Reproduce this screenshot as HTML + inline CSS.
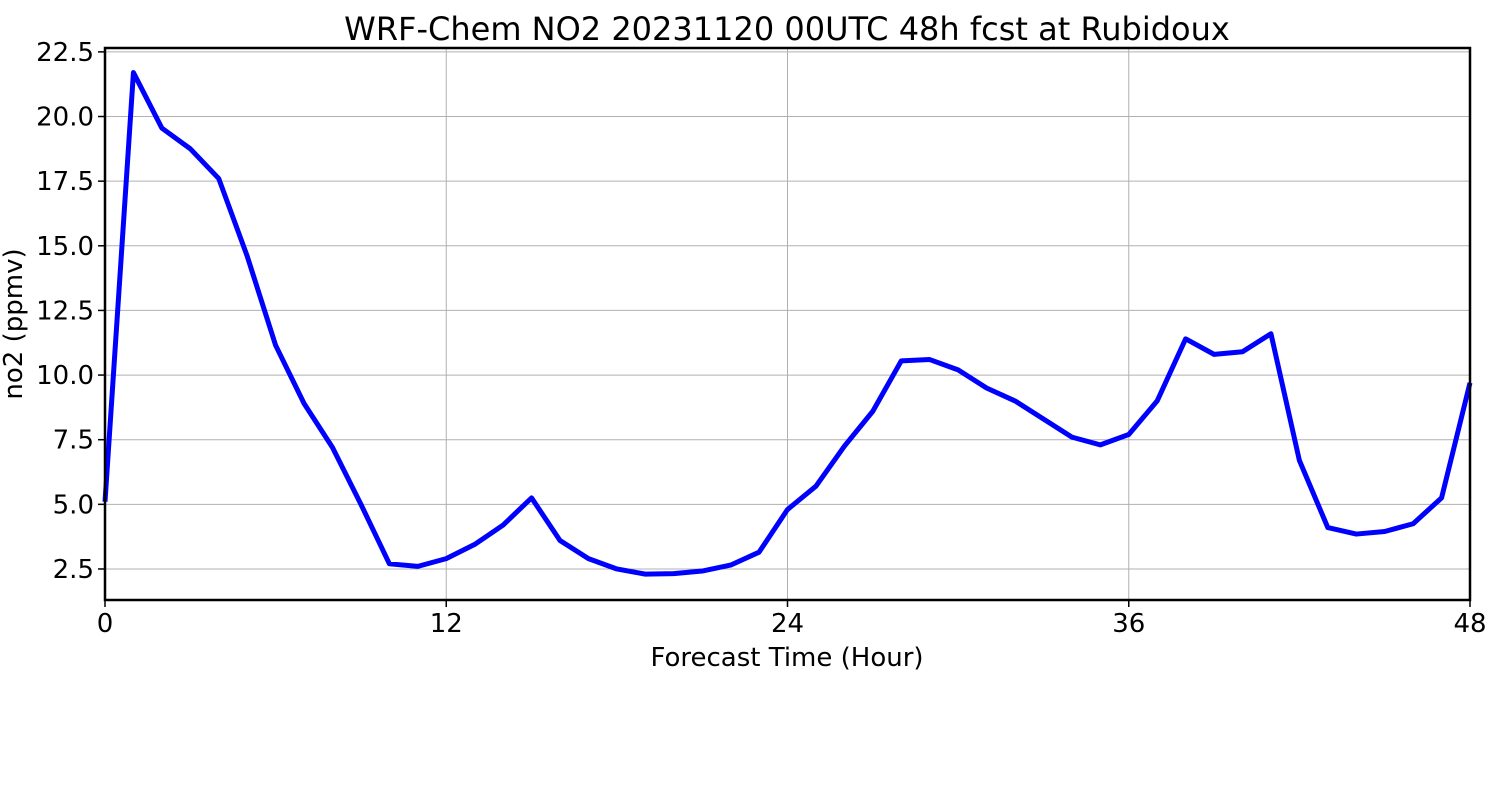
<!DOCTYPE html>
<html><head><meta charset="utf-8"><style>
body{margin:0;background:#fff;}
svg{display:block;font-family:"DejaVu Sans","Liberation Sans",sans-serif;}
</style></head><body>
<svg id="chart" width="1500" height="800">
<text x="787" y="40" font-size="32" text-anchor="middle">WRF-Chem NO2  20231120 00UTC 48h fcst at Rubidoux</text>
<g id="grid"></g>
<g id="axes"></g>
<polyline id="line" fill="none" stroke="#0000ff" stroke-width="5" stroke-linejoin="round"/>
<rect x="105" y="48" width="1365" height="552" fill="none" stroke="#000" stroke-width="2.5"/>
<text x="787" y="666" font-size="26" text-anchor="middle">Forecast Time (Hour)</text>
<text transform="translate(22,324) rotate(-90)" font-size="26" text-anchor="middle">no2  (ppmv)</text>
</svg>
<script>
const hours=[0,1,2,3,4,5,6,7,8,9,10,11,12,13,14,15,16,17,18,19,20,21,22,23,24,25,26,27,28,29,30,31,32,33,34,35,36,37,38,39,40,41,42,43,44,45,46,47,48];
const no2=[5.1,21.7,19.55,18.75,17.6,14.6,11.15,8.9,7.2,5.0,2.7,2.6,2.9,3.45,4.2,5.25,3.6,2.9,2.5,2.3,2.32,2.42,2.65,3.15,4.8,5.7,7.25,8.6,10.55,10.6,10.2,9.5,9.0,8.3,7.6,7.3,7.7,9.0,11.4,10.8,10.9,11.6,6.7,4.1,3.85,3.95,4.25,5.25,9.7];
const xTicks=[0,12,24,36,48];
const yTicks=[2.5,5.0,7.5,10.0,12.5,15.0,17.5,20.0,22.5];
const X0=105,X1=1470,Y0=600,Y1=48,XMIN=0,XMAX=48,YMIN=1.3,YMAX=22.65;
const sx=v=>X0+(v-XMIN)/(XMAX-XMIN)*(X1-X0);
const sy=v=>Y0-(v-YMIN)/(YMAX-YMIN)*(Y0-Y1);
const NS="http://www.w3.org/2000/svg";
const grid=document.getElementById('grid'),axes=document.getElementById('axes');
function mk(tag,attrs,parent){const e=document.createElementNS(NS,tag);for(const k in attrs)e.setAttribute(k,attrs[k]);parent.appendChild(e);return e;}
xTicks.forEach(t=>{
 const x=sx(t);
 const g=mk('line',{x1:x,x2:x,y1:Y1,y2:Y0,stroke:'#b0b0b0','stroke-width':1},grid);
 
 
 const tk=mk('line',{x1:x,x2:x,y1:Y0,y2:Y0+7,stroke:'#000','stroke-width':1.5},axes);
 
 
 const tx=mk('text',{x:x,y:Y0+32,'font-size':26,'text-anchor':'middle'},axes);
 tx.textContent=t;
 
 
});
yTicks.forEach(t=>{
 const y=sy(t);
 const g=mk('line',{x1:X0,x2:X1,y1:y,y2:y,stroke:'#b0b0b0','stroke-width':1},grid);
 
 
 const tk=mk('line',{x1:X0-7,x2:X0,y1:y,y2:y,stroke:'#000','stroke-width':1.5},axes);
 
 
 const tx=mk('text',{x:X0-11,y:y+9,'font-size':26,'text-anchor':'end'},axes);
 tx.textContent=t.toFixed(1);
 
 
});
document.getElementById('line').setAttribute('points',hours.map((h,i)=>sx(h)+','+sy(no2[i])).join(' '));
</script>
</body></html>
